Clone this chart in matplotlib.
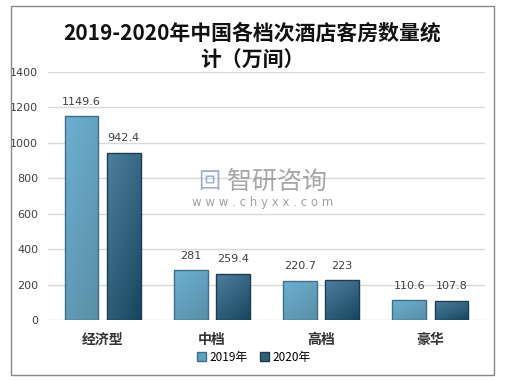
import numpy as np
import matplotlib
matplotlib.use('Agg')
import matplotlib.pyplot as plt
from matplotlib.colors import LinearSegmentedColormap
from matplotlib.patches import Rectangle, Patch

plt.rcParams['font.family'] = ['Noto Sans CJK SC', 'DejaVu Sans']

categories = ['经济型', '中档', '高档', '豪华']
series_names = ['2019年', '2020年']
values_2019 = [1149.6, 281, 220.7, 110.6]
values_2020 = [942.4, 259.4, 223, 107.8]
yticks = [0, 200, 400, 600, 800, 1000, 1200, 1400]
title = '2019-2020年中国各档次酒店客房数量统\n计（万间）'

# light -> dark gradient per series
grad_2019 = LinearSegmentedColormap.from_list('g19', ['#6CB0D2', '#5A8EA5'])
grad_2020 = LinearSegmentedColormap.from_list('g20', ['#4E7F9F', '#17475F'])
legend_colors = ['#5EA2C3', '#2D5E7C']
edge_colors = ['#3F6F86', '#1E3C4E']

fig = plt.figure(figsize=(5.26, 3.82), dpi=100)
ax = fig.add_axes([0.0913, 0.1623, 0.8308, 0.6492])

x = np.arange(len(categories))
width = 0.31
offset = 0.193

# diagonal gradient image (top-left light, bottom-right dark)
gx, gy = np.meshgrid(np.linspace(0, 1, 60), np.linspace(0, 1, 120))
grad_img = 0.6 * gy + 0.4 * gx

for vals, cmap, ec, sign in [(values_2019, grad_2019, edge_colors[0], -1),
                             (values_2020, grad_2020, edge_colors[1], 1)]:
    bars = ax.bar(x + sign * offset, vals, width, color='none',
                  edgecolor=ec, linewidth=1.0, zorder=3)
    for b, v in zip(bars, vals):
        x0 = b.get_x()
        im = ax.imshow(grad_img, cmap=cmap, aspect='auto', vmin=0, vmax=1,
                       extent=[x0, x0 + b.get_width(), 0, v],
                       origin='upper', zorder=2)
        im.set_clip_path(b)
        ax.annotate(f'{v:g}', (b.get_x() + b.get_width() / 2, v),
                    xytext=(0, 7), textcoords='offset points',
                    ha='center', va='bottom', fontsize=8, color='#404040',
                    family='DejaVu Sans')

ax.set_xlim(-0.5, len(categories) - 0.5)
ax.set_ylim(0, 1400)
ax.set_yticks(yticks)
ax.set_yticklabels([str(t) for t in yticks], fontsize=8, color='#404040',
                   family='DejaVu Sans')
ax.set_xticks(x)
ax.set_xticklabels(categories, fontsize=10, fontweight='bold', color='#333333')
ax.tick_params(length=0)
ax.tick_params(axis='x', pad=9)
ax.tick_params(axis='y', pad=7)
ax.grid(axis='y', color='#D9D9D9', linewidth=1.0, zorder=0)
for s in ax.spines.values():
    s.set_visible(False)

fig.text(0.48, 0.877, title, ha='center', va='center', fontsize=15,
         fontweight='bold', linespacing=1.35, color='#111111')

# watermark
fig.text(0.527, 0.524, '智研咨询', ha='center', va='center', fontsize=18,
         color='#8A8A8A', alpha=0.75)
fig.text(0.398, 0.524, '回', ha='center', va='center', fontsize=16,
         color='#7E96C4', alpha=0.75)
fig.text(0.5, 0.471, 'w w w . c h y x x . c o m', ha='center', va='center',
         fontsize=8.5, color='#8A8A8A', alpha=0.8, family='DejaVu Sans')

handles = [Patch(facecolor=c, edgecolor=e) for c, e in zip(legend_colors, edge_colors)]
fig.legend(handles, series_names, loc='center', bbox_to_anchor=(0.483, 0.065),
           ncol=2, frameon=False, fontsize=8.5, handlelength=0.8,
           handleheight=0.8, handletextpad=0.3, columnspacing=1.0)

fig.add_artist(Rectangle((0.0209, 0.0183), 0.918, 0.966, transform=fig.transFigure,
                         fill=False, edgecolor='#888888', linewidth=1.0))

fig.savefig('out.png', dpi=100, facecolor='white')
